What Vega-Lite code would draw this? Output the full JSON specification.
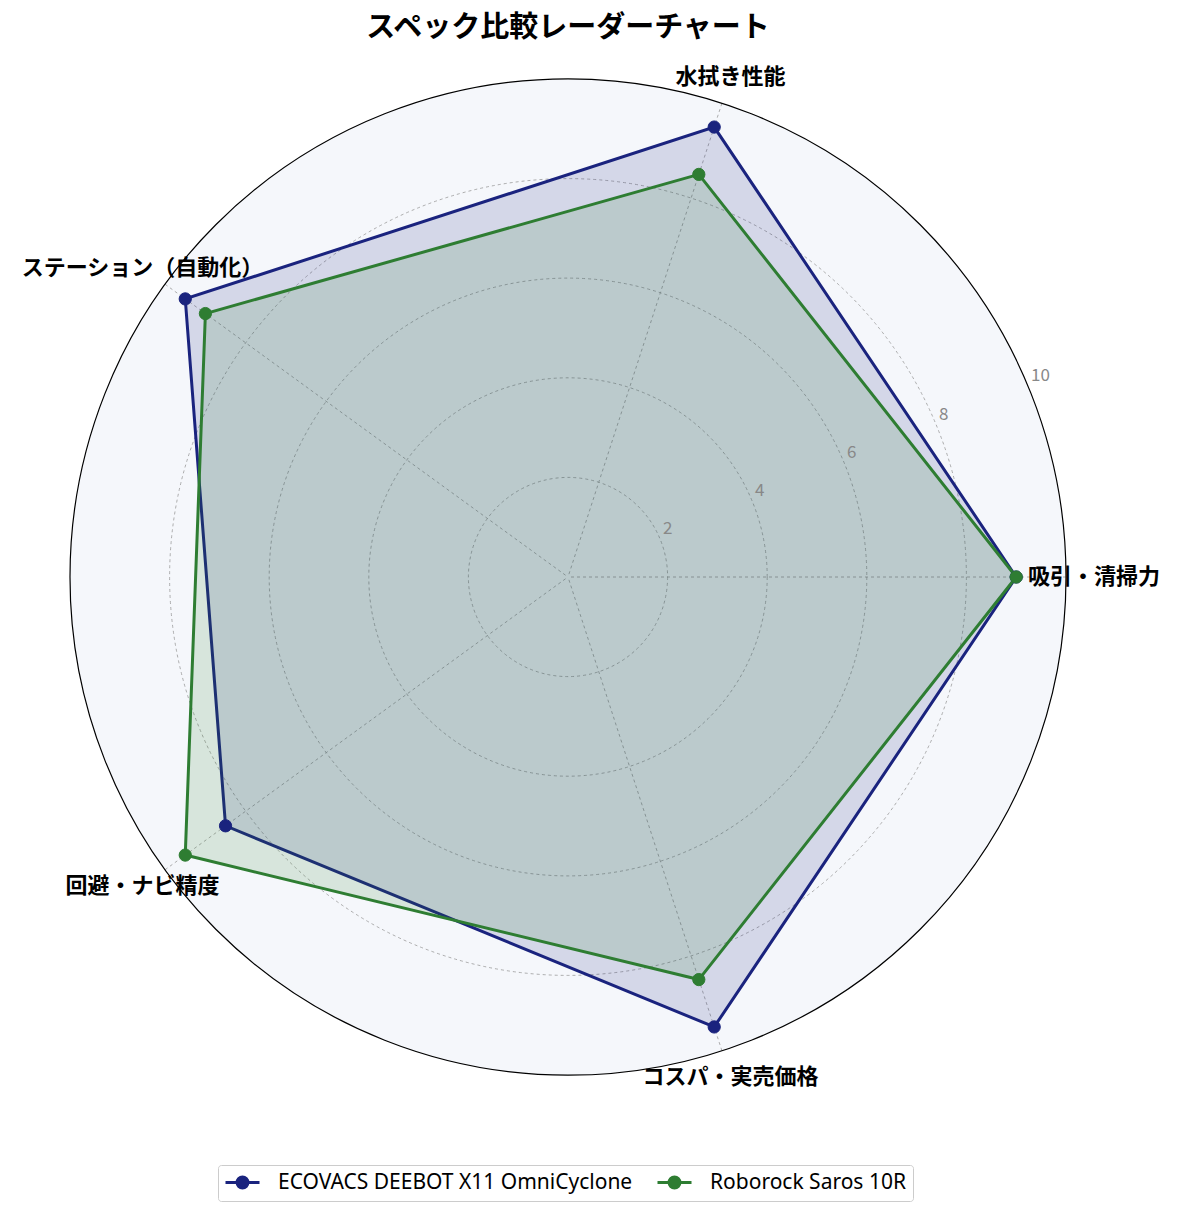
{
  "$schema": "https://vega.github.io/schema/vega-lite/v6.json",
  "width": 996,
  "height": 996,
  "autosize": {"type": "none"},
  "padding": {"left": 70, "top": 79, "right": 112, "bottom": 139},
  "background": "white",
  "title": {
    "text": "スペック比較レーダーチャート",
    "anchor": "middle",
    "frame": "group",
    "baseline": "bottom",
    "offset": 24,
    "dy": 30,
    "fontSize": 29,
    "fontWeight": "bold",
    "font": "Noto Sans CJK JP",
    "color": "black"
  },
  "config": {
    "view": {"stroke": null},
    "font": "Noto Sans CJK JP",
    "legend": {
      "title": null,
      "orient": "none",
      "direction": "horizontal",
      "legendX": 148,
      "legendY": 1086,
      "padding": 7,
      "strokeColor": "#cccccc",
      "fillColor": "white",
      "cornerRadius": 3,
      "labelFontSize": 21,
      "labelFont": "Noto Sans",
      "labelColor": "black",
      "labelLimit": 600,
      "labelOffset": 25,
      "columnPadding": 18,
      "symbolSize": 289,
      "symbolOffset": 7,
      "symbolOpacity": 1,
      "symbolStrokeWidth": 3,
      "symbolType": "M-2,0H2M-0.64,0A0.64,0.64,0,1,1,0.64,0A0.64,0.64,0,1,1,-0.64,0Z"
    }
  },
  "datasets": {
    "scores": [
      {"model": "ECOVACS DEEBOT X11 OmniCyclone", "axis": "吸引・清掃力", "idx": 0, "value": 9.0},
      {"model": "ECOVACS DEEBOT X11 OmniCyclone", "axis": "水拭き性能", "idx": 1, "value": 9.5},
      {"model": "ECOVACS DEEBOT X11 OmniCyclone", "axis": "ステーション（自動化）", "idx": 2, "value": 9.5},
      {"model": "ECOVACS DEEBOT X11 OmniCyclone", "axis": "回避・ナビ精度", "idx": 3, "value": 8.5},
      {"model": "ECOVACS DEEBOT X11 OmniCyclone", "axis": "コスパ・実売価格", "idx": 4, "value": 9.5},
      {"model": "Roborock Saros 10R", "axis": "吸引・清掃力", "idx": 0, "value": 9.0},
      {"model": "Roborock Saros 10R", "axis": "水拭き性能", "idx": 1, "value": 8.5},
      {"model": "Roborock Saros 10R", "axis": "ステーション（自動化）", "idx": 2, "value": 9.0},
      {"model": "Roborock Saros 10R", "axis": "回避・ナビ精度", "idx": 3, "value": 9.5},
      {"model": "Roborock Saros 10R", "axis": "コスパ・実売価格", "idx": 4, "value": 8.5}
    ],
    "axes": [
      {"axis": "吸引・清掃力", "idx": 0},
      {"axis": "水拭き性能", "idx": 1},
      {"axis": "ステーション（自動化）", "idx": 2},
      {"axis": "回避・ナビ精度", "idx": 3},
      {"axis": "コスパ・実売価格", "idx": 4}
    ],
    "ticks": [
      {"r": 2}, {"r": 4}, {"r": 6}, {"r": 8}, {"r": 10}
    ]
  },
  "layer": [
    {
      "data": {"name": "ticks"},
      "transform": [{"filter": "datum.r == 10"}],
      "mark": {"type": "point", "shape": "circle", "filled": true, "color": "#f5f7fb", "opacity": 1, "strokeWidth": 0},
      "encoding": {
        "x": {"datum": 0, "type": "quantitative", "scale": {"domain": [-10, 10], "nice": false, "zero": false}, "axis": null},
        "y": {"datum": 0, "type": "quantitative", "scale": {"domain": [-10, 10], "nice": false, "zero": false}, "axis": null},
        "size": {"field": "r", "type": "quantitative", "scale": {"type": "pow", "exponent": 2, "domain": [0, 10], "range": [0, 992016], "zero": true}, "legend": null}
      }
    },
    {
      "data": {"name": "ticks"},
      "transform": [{"filter": "datum.r < 10"}],
      "mark": {"type": "point", "shape": "circle", "filled": false, "opacity": 1, "color": "#999999", "strokeWidth": 0.8, "strokeDash": [3, 3]},
      "encoding": {
        "x": {"datum": 0, "type": "quantitative", "axis": null},
        "y": {"datum": 0, "type": "quantitative", "axis": null},
        "size": {"field": "r", "type": "quantitative", "legend": null}
      }
    },
    {
      "data": {"name": "axes"},
      "transform": [
        {"calculate": "datum.idx * 2 * PI / 5", "as": "a"},
        {"calculate": "10 * cos(datum.a)", "as": "ex"},
        {"calculate": "10 * sin(datum.a)", "as": "ey"}
      ],
      "mark": {"type": "rule", "color": "#999999", "strokeWidth": 0.8, "strokeDash": [3, 3]},
      "encoding": {
        "x": {"field": "ex", "type": "quantitative", "axis": null},
        "y": {"field": "ey", "type": "quantitative", "axis": null},
        "x2": {"datum": 0},
        "y2": {"datum": 0}
      }
    },
    {
      "data": {"name": "scores"},
      "transform": [
        {"filter": "datum.model == 'ECOVACS DEEBOT X11 OmniCyclone'"},
        {"calculate": "datum.idx * 2 * PI / 5", "as": "a"},
        {"calculate": "datum.value * cos(datum.a)", "as": "px"},
        {"calculate": "datum.value * sin(datum.a)", "as": "py"}
      ],
      "mark": {"type": "line", "interpolate": "linear-closed", "stroke": "#1a237e", "strokeWidth": 3, "fill": "#1a237e", "fillOpacity": 0.15},
      "encoding": {
        "x": {"field": "px", "type": "quantitative", "axis": null},
        "y": {"field": "py", "type": "quantitative", "axis": null},
        "order": {"field": "idx", "type": "quantitative"}
      }
    },
    {
      "data": {"name": "scores"},
      "transform": [
        {"filter": "datum.model == 'Roborock Saros 10R'"},
        {"calculate": "datum.idx * 2 * PI / 5", "as": "a"},
        {"calculate": "datum.value * cos(datum.a)", "as": "px"},
        {"calculate": "datum.value * sin(datum.a)", "as": "py"}
      ],
      "mark": {"type": "line", "interpolate": "linear-closed", "stroke": "#2e7d32", "strokeWidth": 3, "fill": "#2e7d32", "fillOpacity": 0.15},
      "encoding": {
        "x": {"field": "px", "type": "quantitative", "axis": null},
        "y": {"field": "py", "type": "quantitative", "axis": null},
        "order": {"field": "idx", "type": "quantitative"}
      }
    },
    {
      "data": {"name": "scores"},
      "transform": [
        {"calculate": "datum.idx * 2 * PI / 5", "as": "a"},
        {"calculate": "datum.value * cos(datum.a)", "as": "px"},
        {"calculate": "datum.value * sin(datum.a)", "as": "py"}
      ],
      "mark": {"type": "point", "shape": "circle", "opacity": 1, "size": 150, "strokeWidth": 1},
      "encoding": {
        "x": {"field": "px", "type": "quantitative", "axis": null},
        "y": {"field": "py", "type": "quantitative", "axis": null},
        "fill": {
          "field": "model",
          "type": "nominal",
          "scale": {"domain": ["ECOVACS DEEBOT X11 OmniCyclone", "Roborock Saros 10R"], "range": ["#1a237e", "#2e7d32"]}
        },
        "stroke": {
          "field": "model",
          "type": "nominal",
          "scale": {"domain": ["ECOVACS DEEBOT X11 OmniCyclone", "Roborock Saros 10R"], "range": ["#1a237e", "#2e7d32"]}
        }
      }
    },
    {
      "data": {"name": "ticks"},
      "transform": [{"filter": "datum.r == 10"}],
      "mark": {"type": "point", "shape": "circle", "filled": false, "opacity": 1, "color": "black", "strokeWidth": 1.2},
      "encoding": {
        "x": {"datum": 0, "type": "quantitative", "axis": null},
        "y": {"datum": 0, "type": "quantitative", "axis": null},
        "size": {"field": "r", "type": "quantitative", "legend": null}
      }
    },
    {
      "data": {"name": "ticks"},
      "transform": [
        {"calculate": "datum.r * cos(PI / 8)", "as": "tx"},
        {"calculate": "datum.r * sin(PI / 8)", "as": "ty"}
      ],
      "mark": {"type": "text", "align": "left", "baseline": "bottom", "dx": 3, "dy": -1, "fontSize": 17, "color": "#888888"},
      "encoding": {
        "x": {"field": "tx", "type": "quantitative", "axis": null},
        "y": {"field": "ty", "type": "quantitative", "axis": null},
        "text": {"field": "r", "type": "quantitative"}
      }
    },
    {
      "data": {"name": "axes"},
      "transform": [
        {"calculate": "datum.idx * 2 * PI / 5", "as": "a"},
        {"calculate": "10.56 * cos(datum.a)", "as": "lx"},
        {"calculate": "10.56 * sin(datum.a)", "as": "ly"}
      ],
      "mark": {"type": "text", "align": "center", "baseline": "middle", "fontSize": 22, "fontWeight": "bold", "color": "black"},
      "encoding": {
        "x": {"field": "lx", "type": "quantitative", "axis": null},
        "y": {"field": "ly", "type": "quantitative", "axis": null},
        "text": {"field": "axis", "type": "nominal"}
      }
    }
  ]
}
